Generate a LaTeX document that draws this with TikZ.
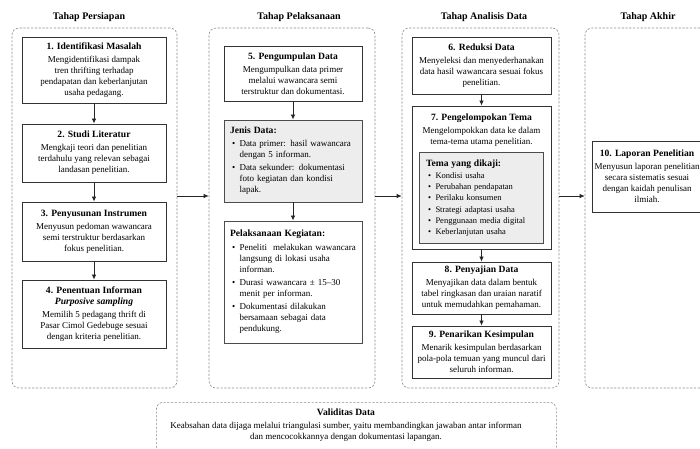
\documentclass[tikz,border=0pt]{standalone}
\usepackage{fontspec}
\setmainfont{Liberation Serif}
\usetikzlibrary{arrows.meta,calc}
\newcommand\bt[1]{{\fontsize{9.6}{11}\selectfont\bfseries #1}}
\newcommand\bul{\hspace*{2pt}\makebox[7.5pt][l]{\textbullet}}
\newcommand\ind{\hspace*{9.5pt}}
\tikzset{
 panel/.style={draw=black!45, dash pattern=on 2.2pt off 1.6pt, rounded corners=7pt, line width=0.6pt},
 box/.style={draw=black!80, line width=0.9pt, fill=white, align=center, inner sep=2pt, font=\fontsize{9}{11}\selectfont},
 graybox/.style={draw=black!70, line width=0.9pt, fill=black!7, align=left, inner sep=6pt, font=\fontsize{9}{11}\selectfont},
 hdr/.style={font=\fontsize{10}{12}\selectfont\bfseries},
 arr/.style={-{Latex[length=5pt,width=4.5pt]}, line width=0.8pt, black!85},
}
\begin{document}
\begin{tikzpicture}[x=1pt,y=-1pt]
\useasboundingbox (0,0) rectangle (700,448);
\clip (0,0) rectangle (700,448);
\fill[white] (0,0) rectangle (700,448);
% panels
\node[panel, minimum width=165pt, minimum height=360pt] (p1) at (94.5,208) {};
\node[panel, minimum width=166pt, minimum height=360pt] (p2) at (292,208) {};
\node[panel, minimum width=157pt, minimum height=360pt] (p3) at (480.5,208) {};
\node[panel, minimum width=175pt, minimum height=360pt] (p4) at (672.5,208) {};
% headers
\node[hdr] (h1) at (89,17) {Tahap Persiapan};
\node[hdr] (h2) at (299,17) {Tahap Pelaksanaan};
\node[hdr] (h3) at (484,17) {Tahap Analisis Data};
\node[hdr] (h4) at (648,17) {Tahap Akhir};
% column 1
\node[box, minimum width=144pt, minimum height=66pt] (b1) at (94,70) {\bt{1. Identifikasi Masalah}\\[2pt]
Mengidentifikasi dampak\\ tren thrifting terhadap\\ pendapatan dan keberlanjutan\\ usaha pedagang.};
\node[box, minimum width=144pt, minimum height=58pt] (b2) at (94,153) {\bt{2. Studi Literatur}\\[2pt]
Mengkaji teori dan penelitian\\ terdahulu yang relevan sebagai\\ landasan penelitian.};
\node[box, minimum width=144pt, minimum height=59pt] (b3) at (94,231.5) {\bt{3. Penyusunan Instrumen}\\[2pt]
Menyusun pedoman wawancara\\ semi terstruktur berdasarkan\\ fokus penelitian.};
\node[box, minimum width=144pt, minimum height=68pt] (b4) at (94,314) {\bt{4. Penentuan Informan}\\
{\fontsize{9.6}{11}\selectfont\bfseries\itshape Purposive sampling}\\[2pt]
Memilih 5 pedagang thrift di\\ Pasar Cimol Gedebuge sesuai\\ dengan kriteria penelitian.};
% column 2
\node[box, minimum width=138pt, minimum height=55pt] (b5) at (293,73.5) {\bt{5. Pengumpulan Data}\\[2pt]
Mengumpulkan data primer\\ melalui wawancara semi\\ terstruktur dan dokumentasi.};
\node[graybox, text width=126pt, minimum height=82pt] (b5a) at (293,161) {\bt{Jenis Data:}\\[2pt]
\bul Data primer: hasil wawancara\\ \ind dengan 5 informan.\\[2pt]
\bul Data sekunder: dokumentasi\\ \ind foto kegiatan dan kondisi\\ \ind lapak.};
\node[graybox, fill=white, text width=126pt, minimum height=122pt] (b5b) at (293,282) {\bt{Pelaksanaan Kegiatan:}\\[3pt]
\bul Peneliti\ \ melakukan wawancara\\ \ind langsung di lokasi usaha\\ \ind informan.\\[2pt]
\bul Durasi wawancara ± 15--30\\ \ind menit per informan.\\[2pt]
\bul Dokumentasi dilakukan\\ \ind bersamaan sebagai data\\ \ind pendukung.};
% column 3
\node[box, minimum width=139pt, minimum height=57pt] (b6) at (481.5,65.5) {\bt{6. Reduksi Data}\\[2pt]
Menyeleksi dan menyederhanakan\\ data hasil wawancara sesuai fokus\\ penelitian.};
\node[box, minimum width=139pt, minimum height=143pt] (b7) at (481.5,177.5) {};
\node[align=center, inner sep=0pt, font=\fontsize{9}{11}\selectfont] (b7t) at (481.5,130.5) {\bt{7. Pengelompokan Tema}\\[2pt]
Mengelompokkan data ke dalam\\ tema-tema utama penelitian.};
\node[graybox, inner sep=7pt, text width=110pt, minimum height=90pt, font=\fontsize{8.5}{11.3}\selectfont] (b7i) at (481,198) {\bt{Tema yang dikaji:}\\[1pt]
\bul Kondisi usaha\\ \bul Perubahan pendapatan\\ \bul Perilaku konsumen\\ \bul Strategi adaptasi usaha\\ \bul Penggunaan media digital\\ \bul Keberlanjutan usaha};
\node[box, minimum width=139pt, minimum height=52pt] (b8) at (481.5,288) {\bt{8. Penyajian Data}\\[2pt]
Menyajikan data dalam bentuk\\ tabel ringkasan dan uraian naratif\\ untuk memudahkan pemahaman.};
\node[box, minimum width=139pt, minimum height=52pt] (b9) at (481.5,352) {\bt{9. Penarikan Kesimpulan}\\[2pt]
Menarik kesimpulan berdasarkan\\ pola-pola temuan yang muncul dari\\ seluruh informan.};
% column 4
\node[box, minimum width=110pt, minimum height=71pt] (b10) at (647,176.5) {\bt{10. Laporan Penelitian}\\[2pt]
Menyusun laporan penelitian\\ secara sistematis sesuai\\ dengan kaidah penulisan\\ ilmiah.};
% validitas
\node[panel, minimum width=400pt, minimum height=140pt, anchor=north west] (val) at (156,402) {};
\node[align=center, font=\fontsize{9}{11}\selectfont] (valt) at (346,425) {\bt{Validitas Data}\\[2pt]
Keabsahan data dijaga melalui triangulasi sumber, yaitu membandingkan jawaban antar informan\\
dan mencocokkannya dengan dokumentasi lapangan.};
% arrows within columns
\draw[arr] (b1) -- (b2);
\draw[arr] (b2) -- (b3);
\draw[arr] (b3) -- (b4);
\draw[arr] (b5) -- (b5a);
\draw[arr] (b5a) -- (b5b);
\draw[arr] (b6) -- (b7);
\draw[arr] (b7) -- (b8);
\draw[arr] (b8) -- (b9);
% arrows between panels
\coordinate (ya) at (0,196);
\draw[arr] (p1.east |- ya) -- (p2.west |- ya);
\draw[arr] (p2.east |- ya) -- (p3.west |- ya);
\draw[arr] (p3.east |- ya) -- (p4.west |- ya);
\end{tikzpicture}
\end{document}
